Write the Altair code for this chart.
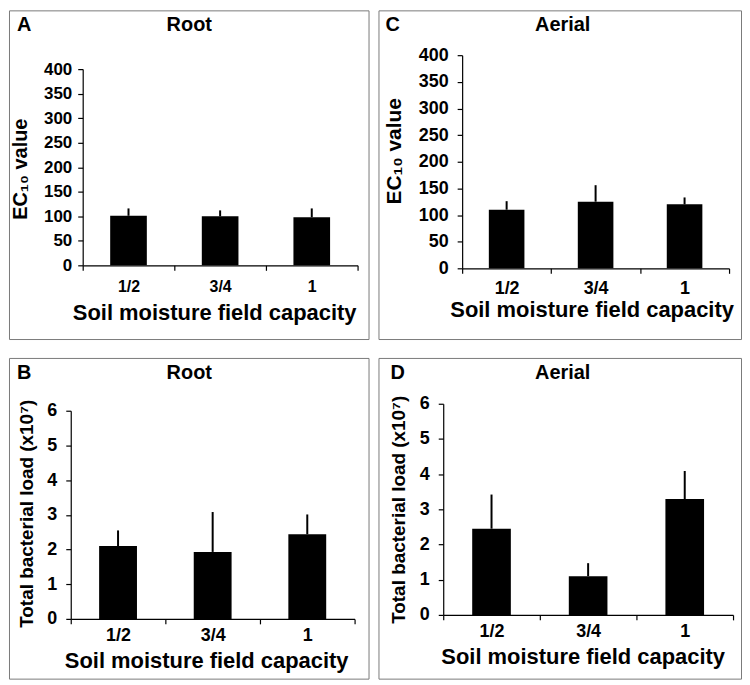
import altair as alt
import pandas as pd

categories = ["1/2", "3/4", "1"]

root_ec10 = [101, 100, 98]
root_ec10_upper = [116, 112, 116]
aerial_ec10 = [110, 125, 120]
aerial_ec10_upper = [126, 156, 133]
root_load = [2.10, 1.93, 2.44]
root_load_upper = [2.55, 3.08, 3.01]
aerial_load = [2.45, 1.10, 3.29]
aerial_load_upper = [3.42, 1.47, 4.09]

ec10_ticks = [0, 50, 100, 150, 200, 250, 300, 350, 400]
load_ticks = [0, 1, 2, 3, 4, 5, 6]

x_title = "Soil moisture field capacity"
ec10_title = "EC\u2081\u2080 value"
load_title = "Total bacterial load (x10\u2077)"

FONT = "Liberation Sans"


def panel(values, upper, letter, title, ytitle, ymax, yticks, g):
    df = pd.DataFrame({"cat": categories, "value": values, "upper": upper})
    one = pd.DataFrame({"k": [0]})
    W, H = g["W"], g["H"]
    l, w, t, h = g["l"], g["w"], g["t"], g["h"]
    xax = alt.Axis(
        title=x_title, labelAngle=0, tickBand="extent", tickSize=5, tickWidth=1.2,
        tickColor="black", domainColor="black", domainWidth=1.2, offset=-(H - t - h),
        labelFont=FONT, labelFontSize=g["xl"], labelFontWeight="bold", labelColor="black",
        labelPadding=g["lp"], titleFont=FONT, titleFontSize=g["xt"], titleFontWeight="bold",
        titleColor="black", titlePadding=g["xtp"], titleX=g["txx"], grid=False,
    )
    yax = alt.Axis(
        title=ytitle, values=yticks, format="d", labelOverlap=False, tickSize=5,
        tickWidth=1.2, tickColor="black", domainColor="black", domainWidth=1.2, offset=-l,
        labelFont=FONT, labelFontSize=g["yl"], labelFontWeight="bold", labelColor="black",
        labelPadding=g["ylp"], titleFont=FONT, titleFontSize=g["yt"], titleFontWeight="bold",
        titleColor="black", titlePadding=g["ytp"], titleY=g["tyy"], grid=False,
    )
    x = alt.X("cat:N", sort=categories,
              scale=alt.Scale(paddingInner=0, paddingOuter=0, range=[l, l + w]), axis=xax)
    y = alt.Y("value:Q", scale=alt.Scale(domain=[0, ymax], nice=False, range=[t + h, t]),
              axis=yax)
    base = alt.Chart(df)
    bars = base.mark_bar(color="black", width=alt.RelativeBandSize(0.4)).encode(x=x, y=y)
    err = base.mark_rule(color="black", strokeWidth=2).encode(
        x=alt.X("cat:N", sort=categories), y="upper:Q", y2="value:Q"
    )
    ttl = alt.Chart(one).mark_text(
        text=title, font=FONT, fontSize=20, fontWeight="bold", color="black",
        align="center", baseline="alphabetic",
    ).encode(x=alt.value(g["tx"]), y=alt.value(g["ty"]))
    let = alt.Chart(one).mark_text(
        text=letter, font=FONT, fontSize=20, fontWeight="bold", color="black",
        align="left", baseline="alphabetic",
    ).encode(x=alt.value(g["lx"]), y=alt.value(g["ty"]))
    return alt.layer(bars, err, ttl, let).properties(width=W, height=H)


gA = dict(W=361, H=330, l=74, w=276, t=59, h=197, xl=16, xt=22, yl=17, yt=20, ylp=6,
          lp=8, xtp=8, ytp=13, txx=206, tyy=159, tx=181, ty=21, lx=8)
gC = dict(W=364, H=330, l=84, w=268, t=45, h=214, xl=18, xt=22, yl=18, yt=21, ylp=9,
          lp=6, xtp=2, ytp=14, txx=214, tyy=141, tx=185, ty=21, lx=7)
gB = dict(W=361, H=322, l=62, w=285, t=53, h=209, xl=18, xt=22, yl=18, yt=19, ylp=9,
          lp=3, xtp=6, ytp=10, txx=198, tyy=156, tx=181, ty=21, lx=8)
gD = dict(W=364, H=322, l=65, w=291, t=46, h=212, xl=18, xt=22, yl=18, yt=19, ylp=9,
          lp=3, xtp=6, ytp=11, txx=205, tyy=152, tx=185, ty=21, lx=12)

A = panel(root_ec10, root_ec10_upper, "A", "Root", ec10_title, 400, ec10_ticks, gA)
C = panel(aerial_ec10, aerial_ec10_upper, "C", "Aerial", ec10_title, 400, ec10_ticks, gC)
B = panel(root_load, root_load_upper, "B", "Root", load_title, 6, load_ticks, gB)
D = panel(aerial_load, aerial_load_upper, "D", "Aerial", load_title, 6, load_ticks, gD)

chart = alt.vconcat(
    alt.hconcat(A, C, spacing=8),
    alt.hconcat(B, D, spacing=8),
    spacing=17,
).properties(padding=0, background="white").configure_view(
    stroke="#7a7a7a", strokeWidth=1
)

chart.save("out.html", embed_options={"renderer": "svg", "actions": False})
